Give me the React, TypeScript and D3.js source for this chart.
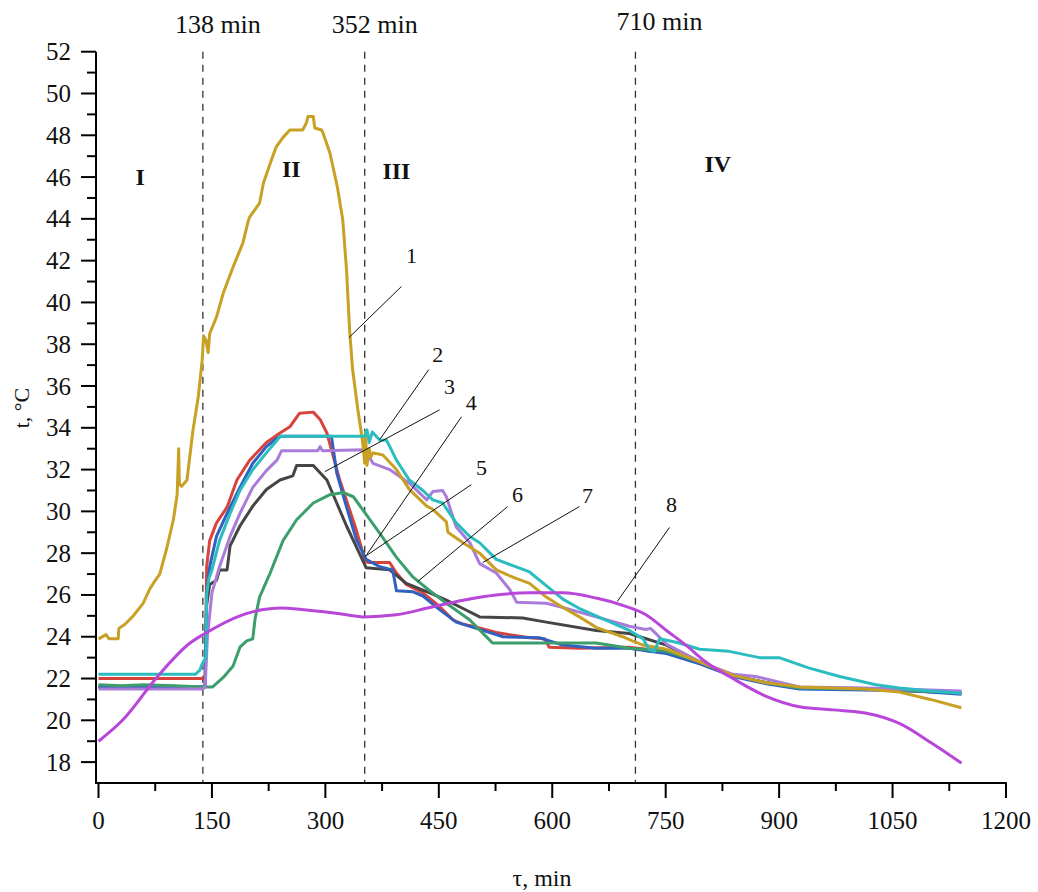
import React from "react";
import * as d3 from "d3";

type P = [number, number];

// Series data: [time (min), temperature (°C)]
const s1Gold: P[] = [[0,23.9],[10,24.1],[14,23.9],[26,23.9],[27,24.4],[35,24.6],[46,25.0],[59,25.6],[68,26.3],[75,26.7],[81,27.0],[90,28.2],[99,29.6],[104,30.8],[106,33.0],[107,31.3],[110,31.2],[117,31.5],[125,33.9],[132,35.5],[137,37.2],[139,38.4],[142,38.2],[145,37.6],[147,38.5],[156,39.3],[165,40.45],[178,41.7],[191,42.85],[198,43.9],[200,44.1],[213,44.75],[218,45.7],[227,46.65],[235,47.45],[244,47.9],[253,48.25],[270,48.25],[275,48.6],[277,48.9],[284,48.9],[286,48.35],[295,48.25],[297,48.1],[306,47.15],[316,45.5],[323,43.95],[328,41.55],[332,38.7],[336,36.8],[343,34.85],[349,33.4],[352,32.3],[353,33.8],[355,32.2],[358,33.0],[360,32.6],[363,32.8],[376,32.7],[394,32.0],[411,31.05],[434,30.25],[442,30.1],[460,29.5],[462,29.0],[482,28.5],[504,28.0],[526,27.2],[548,26.85],[570,26.55],[592,25.9],[614,25.4],[636,24.95],[658,24.45],[693,24.0],[706,23.8],[720,23.6],[751,23.4],[795,22.8],[839,22.15],[883,21.8],[927,21.6],[1014,21.5],[1059,21.35],[1100,21.0],[1141,20.6]];
const s2Cyan: P[] = [[0,22.2],[128,22.2],[134,22.4],[137,22.7],[142,23.0],[143,26.0],[146,26.8],[150,27.2],[160,28.6],[174,29.9],[187,31.0],[204,32.0],[222,32.8],[236,33.4],[240,33.6],[352,33.6],[355,33.9],[358,33.3],[362,33.8],[372,33.4],[381,33.4],[394,32.45],[411,31.5],[429,31.0],[442,30.55],[455,30.4],[473,29.45],[491,28.8],[504,28.5],[526,27.7],[548,27.4],[570,27.1],[592,26.45],[614,25.8],[636,25.35],[658,25.0],[702,24.3],[720,23.9],[728,23.4],[735,23.3],[742,23.9],[768,23.7],[795,23.4],[834,23.3],[874,23.0],[900,23.0],[940,22.5],[980,22.1],[1028,21.7],[1059,21.55],[1100,21.4],[1141,21.3]];
const s3Gray: P[] = [[0,21.6],[138,21.6],[141,21.6],[143,25.5],[147,26.5],[156,26.7],[160,27.2],[170,27.2],[174,28.35],[187,29.3],[204,30.25],[222,31.05],[240,31.5],[257,31.7],[262,32.2],[284,32.2],[293,31.85],[302,31.5],[315,30.4],[328,29.3],[341,28.3],[354,27.3],[385,27.2],[407,26.55],[438,26.1],[460,25.75],[482,25.35],[504,24.95],[561,24.9],[592,24.7],[658,24.3],[702,24.15],[720,23.95],[751,23.6],[795,22.8],[839,22.15],[883,21.8],[927,21.55],[1014,21.5],[1080,21.4],[1141,21.3]];
const s4Red: P[] = [[0,22.0],[137,22.0],[141,22.0],[143,27.35],[147,28.6],[156,29.45],[170,30.2],[183,31.5],[200,32.45],[222,33.3],[240,33.75],[253,34.05],[266,34.7],[284,34.75],[293,34.4],[302,33.75],[319,31.5],[341,29.1],[352,27.7],[356,27.55],[385,27.55],[394,27.05],[407,26.5],[429,26.1],[451,25.45],[469,24.8],[482,24.6],[495,24.5],[526,24.2],[570,23.95],[590,23.9],[596,23.5],[636,23.45],[702,23.5],[751,23.3],[795,22.8],[839,22.15],[883,21.8],[927,21.55],[1014,21.5],[1080,21.4],[1141,21.3]];
const s5Blue: P[] = [[0,21.6],[138,21.6],[141,21.7],[143,26.0],[147,27.35],[156,28.8],[170,29.9],[187,31.15],[204,32.3],[222,33.1],[236,33.5],[242,33.6],[308,33.6],[315,31.85],[328,30.2],[341,28.65],[354,27.7],[372,27.35],[389,27.2],[394,26.2],[416,26.15],[429,25.95],[451,25.3],[473,24.7],[504,24.35],[535,24.0],[583,23.95],[614,23.6],[658,23.45],[702,23.45],[728,23.3],[751,23.2],[795,22.7],[839,22.1],[883,21.75],[927,21.5],[1014,21.45],[1080,21.4],[1141,21.25]];
const s6Green: P[] = [[0,21.7],[30,21.65],[60,21.7],[100,21.65],[138,21.6],[151,21.6],[165,22.05],[178,22.6],[187,23.5],[196,23.8],[204,23.9],[207,24.85],[213,25.9],[227,27.05],[244,28.6],[262,29.6],[284,30.4],[306,30.8],[324,30.9],[337,30.7],[350,30.05],[372,28.95],[394,27.8],[416,26.85],[438,26.2],[460,25.6],[491,24.8],[517,23.85],[521,23.7],[570,23.7],[658,23.7],[702,23.45],[751,23.3],[795,22.8],[839,22.15],[883,21.8],[927,21.55],[1014,21.5],[1080,21.4],[1141,21.35]];
const s7Lavender: P[] = [[0,21.5],[138,21.5],[141,21.6],[144,24.0],[150,26.1],[160,27.35],[174,28.8],[187,29.9],[204,31.15],[222,31.95],[236,32.45],[242,32.9],[290,32.9],[293,33.1],[296,32.9],[352,32.95],[363,32.3],[385,32.0],[411,31.35],[434,30.55],[442,30.95],[455,31.0],[460,30.7],[473,29.25],[491,28.5],[504,27.5],[526,27.05],[544,26.25],[553,25.65],[592,25.6],[614,25.4],[658,24.95],[702,24.5],[724,24.35],[730,24.4],[751,23.65],[795,22.8],[839,22.2],[869,22.1],[927,21.6],[1014,21.55],[1141,21.4]];
const s8Magenta: P[] = [[0,19.0],[33,20.05],[77,22.05],[121,23.7],[143,24.2],[187,25.0],[218,25.3],[240,25.38],[275,25.28],[319,25.1],[350,24.95],[394,25.05],[438,25.4],[482,25.75],[526,26.0],[570,26.1],[614,26.1],[658,25.85],[689,25.55],[724,25.05],[751,24.3],[780,23.5],[799,22.9],[839,22.0],[883,21.15],[927,20.65],[971,20.5],[1014,20.35],[1059,19.85],[1102,18.9],[1141,17.95]];

const xTicks = [0, 150, 300, 450, 600, 750, 900, 1050, 1200];
const yTicks = [18, 20, 22, 24, 26, 28, 30, 32, 34, 36, 38, 40, 42, 44, 46, 48, 50, 52];
const stageLines = [138, 352, 710];
const stageLabels = ["138 min", "352 min", "710 min"];
const phaseNames = ["I", "II", "III", "IV"];
const phasePos: P[] = [[55, 45.6], [255, 46.0], [394, 45.9], [819, 46.25]];
const curveNames = ["1", "2", "3", "4", "5", "6", "7", "8"];
// leader lines: [labelT, labelV, fromT, fromV, toT, toV]
const leaders: number[][] = [
  [414, 41.9, 400.5, 40.76, 331, 38.31],
  [448.5, 37.16, 436.6, 36.78, 371.7, 33.43],
  [464, 35.6, 451, 34.86, 299.2, 31.9],
  [493, 34.87, 480, 34.53, 354.7, 27.93],
  [506.6, 31.76, 493, 31.28, 352, 27.83],
  [554, 30.47, 541, 30.23, 422, 26.64],
  [646.6, 30.42, 636, 30.23, 508, 27.55],
  [757.6, 29.95, 755, 29.23, 686, 25.69],
];

const series = [
  { d: s4Red, c: "#d8443c", smooth: false },
  { d: s3Gray, c: "#454545", smooth: false },
  { d: s5Blue, c: "#3260c0", smooth: false },
  { d: s6Green, c: "#3c9e6c", smooth: false },
  { d: s7Lavender, c: "#a87cd8", smooth: false },
  { d: s1Gold, c: "#c8a024", smooth: false },
  { d: s2Cyan, c: "#2bbcc0", smooth: false },
  { d: s8Magenta, c: "#b846d8", smooth: true },
];

export default function App() {
  const W = 1038, H = 892;
  const x = d3.scaleLinear().domain([0, 1200]).range([98.5, 1006]);
  const y = d3.scaleLinear().domain([17, 52]).range([783, 51.7]);
  const font = "'Liberation Serif', 'Times New Roman', serif";
  const lineGen = d3.line<P>().x((p) => x(p[0])).y((p) => y(p[1]));
  const smoothGen = d3.line<P>().x((p) => x(p[0])).y((p) => y(p[1])).curve(d3.curveMonotoneX);
  const minorX = d3.range(75, 1200, 150);
  const minorY = d3.range(19, 52, 2);
  const labelDx = [15, 10, 24];
  const labelY = [33, 33, 30];
  const x0 = x(-3.3);
  return (
    <svg width={W} height={H} style={{ position: "absolute", left: 0, top: 0, background: "#fff" }} fontFamily={font}>
      <rect width={W} height={H} fill="#fff" />
      {stageLines.map((s, i) => (
        <g key={s}>
          <line x1={x(s)} x2={x(s)} y1={y(52)} y2={y(17)} stroke="#333" strokeWidth={1.3} strokeDasharray="7,6" />
          <text x={x(s) + labelDx[i]} y={labelY[i]} fontSize={26} textAnchor="middle" fill="#111">{stageLabels[i]}</text>
        </g>
      ))}
      {phaseNames.map((n, i) => (
        <text key={n} x={x(phasePos[i][0])} y={y(phasePos[i][1])} fontSize={24} fontWeight="bold" textAnchor="middle" fill="#111">{n}</text>
      ))}
      {series.map((s, i) => (
        <path key={i} d={(s.smooth ? smoothGen : lineGen)(s.d) || ""} fill="none" stroke={s.c} strokeWidth={3} strokeLinejoin="round" />
      ))}
      {leaders.map((l, i) => (
        <g key={i}>
          <line x1={x(l[2])} y1={y(l[3])} x2={x(l[4])} y2={y(l[5])} stroke="#111" strokeWidth={1} />
          <text x={x(l[0])} y={y(l[1])} fontSize={22} textAnchor="middle" fill="#111">{curveNames[i]}</text>
        </g>
      ))}
      {/* axes */}
      <line x1={x0} x2={x0} y1={y(52)} y2={y(17)} stroke="#000" strokeWidth={2} />
      <line x1={x0 - 1} x2={x(1201)} y1={y(17)} y2={y(17)} stroke="#000" strokeWidth={2} />
      {yTicks.map((t) => (
        <g key={t}>
          <line x1={x0 - 15} x2={x0} y1={y(t)} y2={y(t)} stroke="#000" strokeWidth={2} />
          <text x={x0 - 25} y={y(t) + 8.5} fontSize={25} textAnchor="end" fill="#111">{t}</text>
        </g>
      ))}
      {minorY.map((t) => (
        <line key={t} x1={x0 - 9} x2={x0} y1={y(t)} y2={y(t)} stroke="#000" strokeWidth={2} />
      ))}
      {xTicks.map((t) => (
        <g key={t}>
          <line x1={x(t)} x2={x(t)} y1={y(17)} y2={y(17) + 15} stroke="#000" strokeWidth={2} />
          <text x={x(t)} y={y(17) + 46} fontSize={25} textAnchor="middle" fill="#111">{t}</text>
        </g>
      ))}
      {minorX.map((t) => (
        <line key={t} x1={x(t)} x2={x(t)} y1={y(17)} y2={y(17) + 8} stroke="#000" strokeWidth={2} />
      ))}
      <text transform={`translate(29, 408) rotate(-90)`} fontSize={22} textAnchor="middle" fill="#111">t, °C</text>
      <text x={542} y={886} fontSize={24} textAnchor="middle" fill="#111">τ, min</text>
    </svg>
  );
}
